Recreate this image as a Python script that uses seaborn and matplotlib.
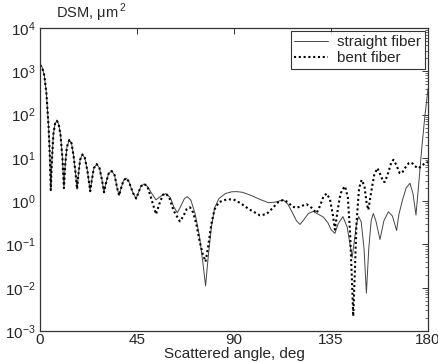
import numpy as np
import pandas as pd
import seaborn as sns
import matplotlib.pyplot as plt
from matplotlib.ticker import LogLocator, NullFormatter

# differential scattering measure vs scattered angle
angle_straight = [0, 1, 2, 3, 4, 4.6, 5.0, 5.5, 6.2, 7.0, 7.8, 8.6, 9.5, 10.4, 11.1,
                  11.7, 12.5, 13.6, 14.6, 15.6, 16.6, 17.2, 17.8, 18.6, 19.7, 20.8,
                  22.0, 23.3, 24.0, 25.0, 26.3, 27.6, 28.8, 29.7, 30.5, 31.8, 33.2,
                  34.6, 35.8, 36.7, 37.5, 38.7, 40.0, 41.3, 43.0, 44.6, 45.5, 46.8,
                  48.3, 49.8, 51.5, 53.8, 56, 58.4, 60.5, 62, 63.7, 65.5, 67, 68.3,
                  70, 72, 74, 75.5, 76.8, 78, 79.5, 81, 83, 86, 89, 91.2, 94, 98,
                  102, 106, 109, 112.8, 115, 117, 119, 120.6, 122.5, 124.5, 126.8,
                  129, 131.4, 133.5, 135, 136.8, 138.3, 140.5, 142.5, 143.8, 144.8,
                  145.8, 146.8, 147.8, 149, 150.3, 151.4, 152.5, 153.6, 154.6, 155.8,
                  157.7, 159.5, 161.6, 163.5, 165.4, 166.5, 168, 169.8, 171.6, 173,
                  174.4, 175.5, 177, 178.5, 180]
dsm_straight = [1400, 1250, 800, 300, 50, 10, 1.8, 8, 35, 62, 72, 62, 35, 10, 2.0,
                7, 18, 26, 22, 11, 4, 1.9, 4, 9, 12, 10,
                5, 1.7, 3, 5.8, 7.2, 5.8, 3, 1.6, 2.5, 4.3, 5.0,
                4.0, 2.0, 1.35, 1.9, 3.0, 3.4, 2.8, 1.6, 1.15, 1.5, 2.2,
                2.5, 2.2, 1.6, 1.07, 1.3, 1.5, 1.2, 0.75, 0.54, 0.8, 1.15, 1.27,
                1.05, 0.5, 0.15, 0.04, 0.011, 0.05, 0.25, 0.7, 1.15, 1.5, 1.65, 1.66, 1.6, 1.35,
                1.1, 0.92, 0.95, 1.07, 0.85, 0.55, 0.35, 0.29, 0.38, 0.52, 0.58,
                0.5, 0.43, 0.32, 0.22, 0.18, 0.3, 0.44, 0.25, 0.1, 0.05,
                0.12, 0.3, 0.44, 0.33, 0.08, 0.0075, 0.08, 0.35, 0.52, 0.35,
                0.13, 0.35, 0.57, 0.45, 0.21, 0.5, 1.0, 2.0, 2.6, 1.5,
                0.48, 2.0, 15, 90, 400]

angle_bent = [0, 1, 2, 3, 4, 4.6, 5.0, 5.5, 6.2, 7.0, 7.8, 8.6, 9.5, 10.4, 11.1,
              11.7, 12.5, 13.6, 14.6, 15.6, 16.6, 17.2, 17.8, 18.6, 19.7, 20.8,
              22.0, 23.3, 24.0, 25.0, 26.3, 27.6, 28.8, 29.7, 30.5, 31.8, 33.2,
              34.6, 35.8, 36.7, 37.5, 38.7, 40.0, 41.3, 43.0, 44.6, 45.5, 46.8,
              48.3, 49.8, 51.5, 53.8, 55.5, 57, 58.4, 60, 62, 64.9, 66.5, 68, 69.6,
              71, 72.5, 74, 75.5, 76.8, 78, 79.5, 81, 83, 86.6, 89.7, 93, 97,
              102, 105, 108, 110.5, 112.8, 115, 117, 119, 121.5, 123.7, 126,
              128.3, 130, 131.5, 133, 134.5, 135.8, 136.8, 137.8, 139, 140, 141.5,
              142.8, 143.8, 144.6, 145.3, 146, 146.8, 148, 149.2, 150.5, 151.5,
              152.3, 153.5, 155, 156.5, 158, 159.2, 160, 161.5, 163, 163.9, 165.2,
              166.8, 167.8, 169.5, 171, 172.4, 173.8, 175.5, 177, 178.5, 180]
dsm_bent = [1400, 1250, 800, 300, 50, 10, 1.8, 8, 35, 62, 72, 62, 35, 10, 2.0,
            7, 18, 26, 22, 11, 4, 1.9, 4, 9, 12, 10,
            5, 1.7, 3, 5.8, 7.2, 5.8, 3, 1.6, 2.5, 4.3, 5.0,
            4.0, 2.0, 1.35, 1.9, 3.0, 3.4, 2.8, 1.6, 1.15, 1.5, 2.2,
            2.5, 2.2, 1.2, 0.5, 0.9, 1.4, 1.5, 1.2, 0.6, 0.34, 0.45, 0.65, 0.72,
            0.55, 0.3, 0.12, 0.06, 0.04, 0.09, 0.3, 0.65, 0.95, 1.1, 1.1, 0.9, 0.65,
            0.47, 0.5, 0.7, 0.95, 1.07, 0.95, 0.75, 0.7, 0.78, 0.85, 0.7,
            0.53, 0.8, 1.3, 1.5, 1.1, 0.5, 0.22, 0.5, 1.2, 1.8, 2.2,
            1.2, 0.2, 0.02, 0.0022, 0.02, 0.3, 2.0, 3.1, 2.2, 0.9,
            0.63, 1.5, 4.0, 5.8, 4.0, 2.8, 2.8, 4.5, 8, 9, 7,
            4.5, 4.4, 6, 7.5, 7.8, 6.5, 5.7, 6.5, 7.5, 8]

df = pd.concat([
    pd.DataFrame({'angle': angle_straight, 'dsm': dsm_straight, 'fiber': 'straight fiber'}),
    pd.DataFrame({'angle': angle_bent, 'dsm': dsm_bent, 'fiber': 'bent fiber'}),
])

sns.set_style('white')
plt.rcParams['font.family'] = ['Liberation Sans', 'DejaVu Sans']
plt.rcParams['mathtext.fontset'] = 'custom'
plt.rcParams['mathtext.rm'] = 'Liberation Sans'

fig = plt.figure(figsize=(4.38, 3.62), dpi=100)
ax = fig.add_axes([0.0913, 0.0856, 0.886, 0.837])

sns.lineplot(data=df[df.fiber == 'straight fiber'], x='angle', y='dsm', ax=ax,
             color='#444444', lw=0.7, label='straight fiber', estimator=None, sort=False)
sns.lineplot(data=df[df.fiber == 'bent fiber'], x='angle', y='dsm', ax=ax,
             color='black', lw=1.5, ls=(0, (1, 1.3)), label='bent fiber',
             estimator=None, sort=False)

ax.set_yscale('log')
ax.set_xlim(0, 180)
ax.set_ylim(1e-3, 1e4)
ax.set_xticks([0, 45, 90, 135, 180])
ax.yaxis.set_major_locator(LogLocator(base=10, numticks=10))
ax.yaxis.set_minor_locator(LogLocator(base=10, subs=np.arange(2, 10), numticks=10))
ax.yaxis.set_minor_formatter(NullFormatter())
ax.tick_params(which='both', direction='in', top=True, right=True, labelsize=11,
               color='#333333')
ax.tick_params(which='major', length=4, width=0.7)
ax.tick_params(axis='x', pad=1.5)
ax.tick_params(axis='y', pad=3)
ax.tick_params(which='minor', length=2, width=0.5)
for s in ax.spines.values():
    s.set_linewidth(0.9)
    s.set_color('#333333')

ax.xaxis.label.set_visible(False)
ax.yaxis.label.set_visible(False)
fig.text(234 / 438, 1 - 354 / 362, 'Scattered angle, deg', fontsize=11,
         ha='center', va='center')
ax.text(0.04, 1.012, 'DSM, μm$^{\\,2}$', transform=ax.transAxes, fontsize=10.5,
        ha='left', va='bottom')

leg = ax.legend(loc='upper right', fontsize=11, frameon=True, fancybox=False,
                borderpad=0.25, handlelength=2.2, labelspacing=0.15,
                borderaxespad=0.2, handletextpad=0.6)
leg.get_frame().set_edgecolor('black')
leg.get_frame().set_linewidth(0.8)

fig.savefig('out.png', dpi=100)
